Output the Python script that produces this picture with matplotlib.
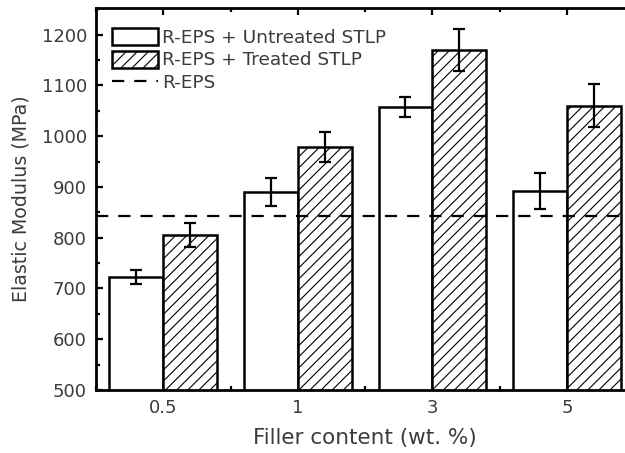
import matplotlib
matplotlib.use("Agg")
import matplotlib.pyplot as plt
import numpy as np
from matplotlib.ticker import MultipleLocator

plt.rcParams['font.family'] = ['DejaVu Sans']
plt.rcParams['hatch.linewidth'] = 0.8

categories = ['0.5', '1', '3', '5']
untreated = [723, 890, 1058, 892]
untreated_err = [14, 27, 20, 36]
treated = [805, 979, 1169, 1060]
treated_err = [24, 29, 41, 42]
reps_value = 842

fig = plt.figure(figsize=(6.25, 4.53), dpi=100)
ax = fig.add_axes([0.1536, 0.139, 0.861, 0.843])

x = np.arange(len(categories))
w = 0.4
txt = '#3c3c3c'

ax.bar(x - w/2, untreated, w, facecolor='white', edgecolor='black',
       linewidth=1.8, label='R-EPS + Untreated STLP', zorder=2)
ax.bar(x + w/2, treated, w, facecolor='white', edgecolor='black', hatch='///',
       linewidth=1.8, label='R-EPS + Treated STLP', zorder=2)
ax.errorbar(x - w/2, untreated, yerr=untreated_err, fmt='none', ecolor='black',
            elinewidth=1.6, capsize=4, capthick=1.6, zorder=3)
ax.errorbar(x + w/2, treated, yerr=treated_err, fmt='none', ecolor='black',
            elinewidth=1.6, capsize=4, capthick=1.6, zorder=3)
ax.axhline(reps_value, color='black', linestyle=(0, (5.5, 4.5)), linewidth=1.6,
           label='R-EPS', zorder=4)

ax.set_xlim(-0.5, 3.5)
ax.set_ylim(500, 1252)
ax.set_xticks(x)
ax.set_xticklabels(categories)
ax.xaxis.set_minor_locator(MultipleLocator(1, offset=0.5))
ax.yaxis.set_major_locator(MultipleLocator(100))
ax.yaxis.set_minor_locator(MultipleLocator(50))
ax.tick_params(which='both', direction='in', top=True, right=False,
               labelsize=13, labelcolor=txt, width=1.6, pad=6.5)
ax.tick_params(which='major', length=5)
ax.tick_params(which='minor', length=3)
for s in ax.spines.values():
    s.set_linewidth(2)

ax.set_xlabel('Filler content (wt. %)', fontsize=15.5, color=txt, labelpad=8)
ax.set_ylabel('Elastic Modulus (MPa)', fontsize=13.7, color=txt, labelpad=8)

h, l = ax.get_legend_handles_labels()
order = [1, 2, 0]
leg = ax.legend([h[i] for i in order], [l[i] for i in order], loc='upper left',
                bbox_to_anchor=(0.005, 0.982), frameon=False, fontsize=13.3,
                handlelength=2.5, handleheight=1.05, labelspacing=0.2,
                handletextpad=0.25, borderaxespad=0.3)
for t in leg.get_texts():
    t.set_color(txt)

fig.savefig('out.png', dpi=100)
